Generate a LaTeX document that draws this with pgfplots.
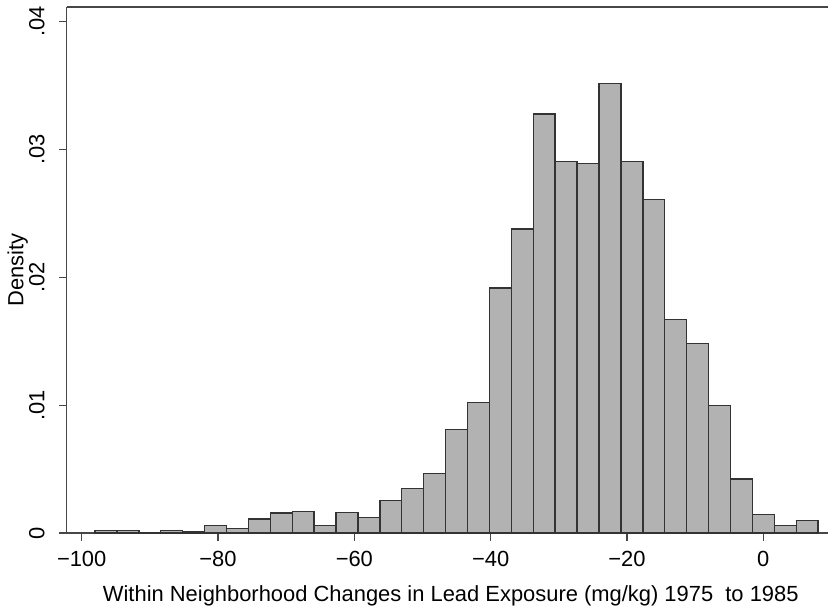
\documentclass[border=0pt]{standalone}
\usepackage{fontspec}
\setmainfont{Liberation Sans}
\usepackage{graphicx}
\usepackage{pgfplots}
\pgfplotsset{compat=1.18}
\definecolor{barfill}{gray}{0.70}
\definecolor{barline}{gray}{0.2}
\definecolor{axline}{gray}{0.28}
\newcommand{\rl}[1]{\rotatebox{90}{#1}}
\begin{document}
\begin{tikzpicture}
\useasboundingbox (-66.7bp,-78bp) rectangle (761.3bp,533bp);
\begin{axis}[
  at={(0,0)}, anchor=south west,
  scale only axis, width=761.3bp, height=526bp,
  xmin=-102.2, xmax=9.49, ymin=0, ymax=0.04113,
  axis x line*=bottom, axis y line*=left,
  axis line style={axline, line width=1.2bp, -},
  scaled y ticks=false, scaled x ticks=false,
  xtick={-100,-80,-60,-40,-20,0},
  xticklabels={−100,−80,−60,−40,−20,0},
  ytick={0,0.01,0.02,0.03,0.04},
  yticklabels={\rl{0},\rl{.01},\rl{.02},\rl{.03},\rl{.04}},
  tick align=outside, major tick length=7.5bp,
  tick style={axline, line width=1.2bp},
  ticklabel style={font=\fontsize{22}{26}\selectfont},
  xticklabel shift=7bp,
  yticklabel style={anchor=east},
  yticklabel shift=11bp,
  xlabel={Within Neighborhood Changes in Lead Exposure (mg/kg) 1975 \ to 1985},
  ylabel={Density},
  label style={font=\fontsize{22}{26}\selectfont},
  xlabel style={at={(axis description cs:0.5045,-0.1198)}, anchor=center},
  ylabel style={at={(axis description cs:-0.0643,0.5)}, anchor=center},
  clip=false,
]
\addplot[ybar interval, fill=barfill, draw=barline, line width=1.4bp] coordinates {
(-98.050,0.0002)
(-94.835,0.0002)
(-91.620,0)
(-88.405,0.0002)
(-85.190,0.0001)
(-81.975,0.00058)
(-78.760,0.00034)
(-75.545,0.0011)
(-72.330,0.00155)
(-69.115,0.0017)
(-65.900,0.00058)
(-62.685,0.0016)
(-59.470,0.0012)
(-56.255,0.00256)
(-53.040,0.00348)
(-49.825,0.00466)
(-46.610,0.00808)
(-43.395,0.0102)
(-40.180,0.01915)
(-36.965,0.02378)
(-33.750,0.03277)
(-30.535,0.02905)
(-27.320,0.0289)
(-24.105,0.03515)
(-20.890,0.02905)
(-17.675,0.02607)
(-14.460,0.01668)
(-11.245,0.01482)
(-8.030,0.00997)
(-4.815,0.00421)
(-1.600,0.00146)
(1.615,0.00058)
(4.830,0.00098)
(8.045,0)
};
\draw[axline, line width=1.2bp] (rel axis cs:0,1) -- (rel axis cs:1,1);
\end{axis}
\end{tikzpicture}
\end{document}
